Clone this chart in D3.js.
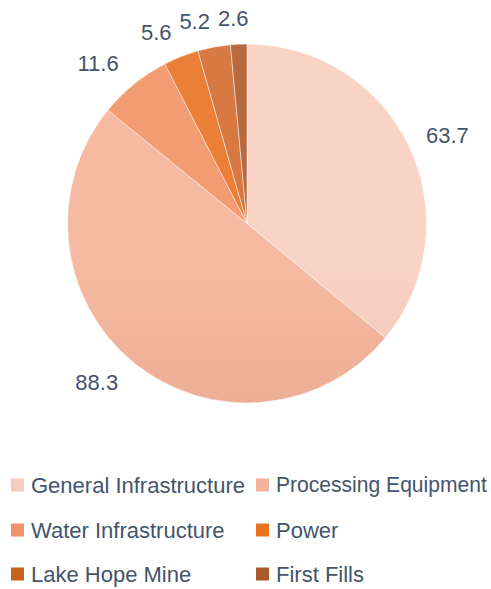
<!DOCTYPE html>
<html>
<head>
<meta charset="utf-8">
<script src="https://cdn.jsdelivr.net/npm/d3@7"></script>
<style>
  html, body { margin: 0; padding: 0; background: #ffffff; }
  svg { display: block; }
</style>
</head>
<body>
<svg id="chart" width="491" height="589"></svg>
<script>
// ---- data ----
const categories = ["General Infrastructure", "Processing Equipment", "Water Infrastructure", "Power", "Lake Hope Mine", "First Fills"];
const values = [63.7, 88.3, 11.6, 5.6, 5.2, 2.6];
const labels = ["63.7", "88.3", "11.6", "5.6", "5.2", "2.6"];
// gradient colours (top, bottom) and legend swatch colours
const topColors = ["#F9D3C5", "#F6BAA2", "#F39C72", "#EC7F38", "#D87843", "#B9693F"];
const bottomColors = ["#E3B3A3", "#DE9A80", "#E38456", "#DD6C1E", "#C5622A", "#A65A33"];
const swatchColors = ["#F4CDBF", "#F2B19A", "#F0936A", "#E8731F", "#C9621E", "#A85A2E"];

// ---- layout ----
const svg = d3.select("#chart");
const W = 491, H = 589;
const cx = 247, cy = 223.5, R = 179.5;
const font = "'Liberation Sans', Arial, sans-serif";
const textColor = "#44546A";

const pie = d3.pie().sort(null).value(d => d)(values);
const arc = d3.arc().innerRadius(0).outerRadius(R);

const defs = svg.append("defs");
categories.forEach((c, i) => {
  const g = defs.append("linearGradient")
    .attr("id", "grad" + i)
    .attr("gradientUnits", "userSpaceOnUse")
    .attr("x1", 0).attr("y1", cy - R).attr("x2", 0).attr("y2", cy + R);
  g.append("stop").attr("offset", "0%").attr("stop-color", topColors[i]);
  g.append("stop").attr("offset", "100%").attr("stop-color", bottomColors[i]);
});

const gPie = svg.append("g").attr("transform", `translate(${cx},${cy})`);
gPie.selectAll("path.slice")
  .data(pie)
  .join("path")
  .attr("class", "slice")
  .attr("d", arc)
  .attr("fill", (d, i) => `url(#grad${i})`)
  .attr("stroke", "#ffffff")
  .attr("stroke-opacity", 0.6)
  .attr("stroke-width", 0.8);

// ---- data labels (outside end) ----
const fs = 22;
const labelR = R + 14;
const gLab = svg.append("g");
pie.forEach((d, i) => {
  const a = (d.startAngle + d.endAngle) / 2;
  const s = Math.sin(a), c = Math.cos(a);
  const t = gLab.append("text")
    .attr("font-family", font)
    .attr("font-size", fs)
    .attr("fill", textColor)
    .text(labels[i]);
  const bb = t.node().getBBox();
  const w = bb.width, h = 24;
  const px = cx + labelR * s, py = cy - labelR * c;
  const hpad = Math.sign(s) * Math.min(Math.abs(s) * 90, s < 0 ? 14 : 6);
  const bx = px + s * w / 2 + hpad, by = py - c * h / 2;
  t.attr("x", bx).attr("y", by).attr("text-anchor", "middle").attr("dominant-baseline", "central");
});

// ---- legend ----
const colX = [11, 256];
const rowY = [485, 530, 574];
const gLeg = svg.append("g");
categories.forEach((cat, i) => {
  const col = i % 2, row = Math.floor(i / 2);
  const x = colX[col], y = rowY[row];
  gLeg.append("rect")
    .attr("x", x).attr("y", y - 6.5)
    .attr("width", 13).attr("height", 13)
    .attr("fill", swatchColors[i]);
  const t = gLeg.append("text")
    .attr("x", 0).attr("y", 0)
    .attr("dominant-baseline", "central")
    .attr("font-family", font)
    .attr("font-size", fs)
    .attr("fill", textColor)
    .text(cat);
  const avail = W - 4 - (x + 20);
  const tw = t.node().getComputedTextLength();
  const k = tw > avail ? avail / tw : 1;
  t.attr("transform", `translate(${x + 20},${y}) scale(${k},1)`);
});
</script>
</body>
</html>
